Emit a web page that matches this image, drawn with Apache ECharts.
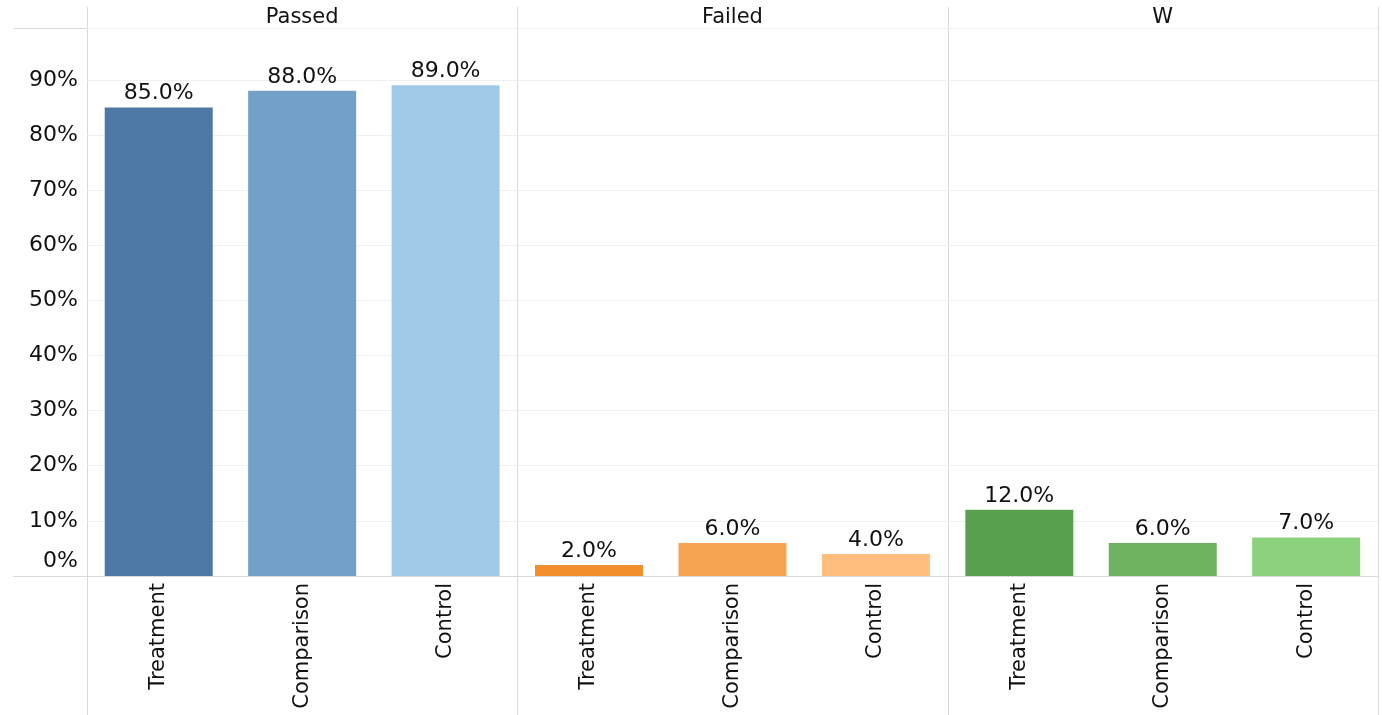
<!DOCTYPE html>
<html>
<head>
<meta charset="utf-8">
<script src="https://cdn.jsdelivr.net/npm/echarts@6/dist/echarts.min.js"></script>
<style>
  html, body { margin: 0; padding: 0; background: #fff; }
  #main { width: 1382px; height: 715px; }
</style>
</head>
<body>
<div id="main"></div>
<script>
// data
const panels = ['Passed', 'Failed', 'W'];
const categories = ['Treatment', 'Comparison', 'Control'];
const passed = [85, 88, 89];
const failed = [2, 6, 4];
const withdrawn = [12, 6, 7];
const yTicks = [0, 10, 20, 30, 40, 50, 60, 70, 80, 90];

const panelValues = [passed, failed, withdrawn];
const colorList = [
  ['#4e79a7', '#73a0c6', '#a0cbe8'],
  ['#f28e2b', '#f7a452', '#ffbe7d'],
  ['#59a14f', '#6db35f', '#8cd17d']
];

const myChart = echarts.init(document.getElementById('main'));
const font = 'DejaVu Sans, sans-serif';
const left0 = 87, panelW = 430.3, gridTop = 28, gridBottom = 139;
const lineColor = '#d9d9d9';

let grids = [], xAxes = [], yAxes = [], seriesArr = [], graphics = [];

panels.forEach((name, i) => {
  grids.push({ left: left0 + panelW * i, width: panelW, top: gridTop, bottom: gridBottom, containLabel: false });
  xAxes.push({
    type: 'category',
    gridIndex: i,
    data: categories,
    axisLine: { show: true, lineStyle: { color: lineColor } },
    axisTick: { show: false },
    axisLabel: { rotate: 90, fontSize: 21, color: '#111', fontFamily: font, margin: 7 }
  });
  yAxes.push({
    type: 'value',
    gridIndex: i,
    min: 0,
    max: 99.4,
    interval: 10,
    axisLine: { show: false },
    axisTick: { show: false },
    splitLine: { show: true, lineStyle: { color: '#f0f0f0' } },
    axisLabel: {
      show: i === 0,
      fontSize: 22,
      color: '#111',
      fontFamily: font,
      margin: 9,
      showMaxLabel: false,
      formatter: (v) => yTicks.indexOf(v) === 0 ? '{z|' + v + '%}' : v + '%',
      rich: { z: { fontSize: 22, color: '#111', fontFamily: font, padding: [0, 0, 30, 0] } }
    }
  });
  seriesArr.push({
    type: 'bar',
    xAxisIndex: i,
    yAxisIndex: i,
    barWidth: 108,
    data: panelValues[i].map((v, j) => ({ value: v, itemStyle: { color: colorList[i][j] } })),
    label: {
      show: true,
      position: 'top',
      distance: 3,
      fontSize: 22,
      color: '#111',
      fontFamily: font,
      formatter: (p) => p.value.toFixed(1) + '%'
    }
  });
  // panel header
  graphics.push({
    type: 'text',
    style: {
      text: name,
      x: left0 + panelW * i + panelW / 2,
      y: 18,
      align: 'center',
      verticalAlign: 'middle',
      fontSize: 21,
      fill: '#111',
      fontFamily: font
    }
  });
});

// panel dividers and header line
[0, 1, 2, 3].forEach((k) => {
  const x = Math.round(left0 + panelW * k) + 0.5;
  graphics.push({ type: 'line', shape: { x1: x, y1: 7, x2: x, y2: 715 }, style: { stroke: lineColor, lineWidth: 1 }, silent: true });
});
graphics.push({ type: 'line', shape: { x1: 13, y1: 28.5, x2: 1378, y2: 28.5 }, style: { stroke: lineColor, lineWidth: 1 }, silent: true });
graphics.push({ type: 'line', shape: { x1: 13, y1: 576.5, x2: 87, y2: 576.5 }, style: { stroke: lineColor, lineWidth: 1 }, silent: true });

let option = {
  backgroundColor: '#fff',
  animation: false,
  grid: grids,
  xAxis: xAxes,
  yAxis: yAxes,
  series: seriesArr,
  graphic: graphics
};
option && myChart.setOption(option);
</script>
</body>
</html>
